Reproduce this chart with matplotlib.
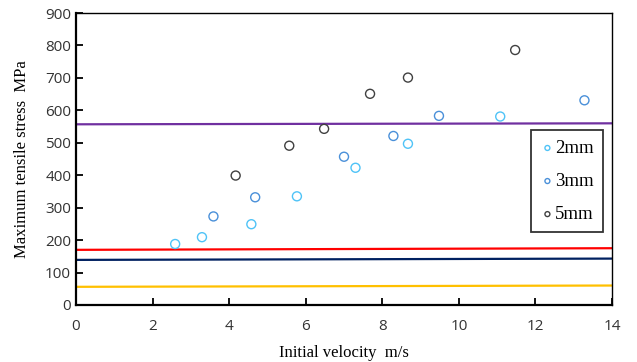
import matplotlib.pyplot as plt

# scatter data
v_2mm = [2.59, 3.29, 4.58, 5.77, 7.30, 8.67, 11.08]
s_2mm = [188, 209, 249, 335, 423, 497, 581]
v_3mm = [3.59, 4.68, 7.00, 8.29, 9.48, 13.28]
s_3mm = [273, 332, 457, 521, 583, 631]
v_5mm = [4.17, 5.57, 6.48, 7.68, 8.67, 11.47]
s_5mm = [399, 491, 543, 651, 701, 786]

# reference lines (nearly flat)
line_x = [0, 14]
purple_y = [557, 560]
red_y = [170, 175]
navy_y = [139, 143]
yellow_y = [56, 60]

fig = plt.figure(figsize=(6.37, 3.62), dpi=100)
ax = fig.add_axes([0.1193, 0.1575, 0.8415, 0.8065])

ax.plot(line_x, purple_y, color="#7030A0", lw=1.6, zorder=1)
ax.plot(line_x, red_y, color="#FF0000", lw=1.6, zorder=1)
ax.plot(line_x, navy_y, color="#002060", lw=1.6, zorder=1)
ax.plot(line_x, yellow_y, color="#FFC000", lw=1.6, zorder=1)

ax.scatter(v_2mm, s_2mm, s=42, facecolors="none", edgecolors="#4FC3F7", linewidths=1.0, label="2mm", zorder=3)
ax.scatter(v_3mm, s_3mm, s=42, facecolors="none", edgecolors="#4A90D9", linewidths=1.0, label="3mm", zorder=3)
ax.scatter(v_5mm, s_5mm, s=42, facecolors="none", edgecolors="#404040", linewidths=1.0, label="5mm", zorder=3)

ax.set_xlim(0, 14)
ax.set_ylim(0, 900)
ax.set_xticks(range(0, 15, 2))
ax.set_yticks(range(0, 901, 100))
ax.tick_params(direction="in", length=5, width=1.3, labelsize=11, colors="black")
ax.tick_params(axis="x", pad=10)
for lab in ax.get_xticklabels() + ax.get_yticklabels():
    lab.set_fontfamily("Open Sans")
    lab.set_color("#333333")

ax.spines["left"].set_linewidth(1.6)
ax.spines["bottom"].set_linewidth(1.6)
ax.spines["top"].set_linewidth(1.0)
ax.spines["right"].set_linewidth(1.0)

ax.set_xlabel("Initial velocity  m/s", fontfamily="Liberation Serif", fontsize=12, labelpad=8)
ax.set_ylabel("Maximum tensile stress  MPa", fontfamily="Liberation Serif", fontsize=12, labelpad=11)

leg = ax.legend(loc="upper right", bbox_to_anchor=(0.983, 0.598), markerscale=0.55,
                prop={"family": "Liberation Serif", "size": 13.5}, frameon=True, fancybox=False,
                edgecolor="black", handletextpad=0.0, handlelength=0.8, labelspacing=0.85,
                borderpad=0.5, borderaxespad=0)
leg.get_frame().set_linewidth(1.3)

fig.savefig("out.png", dpi=100)
